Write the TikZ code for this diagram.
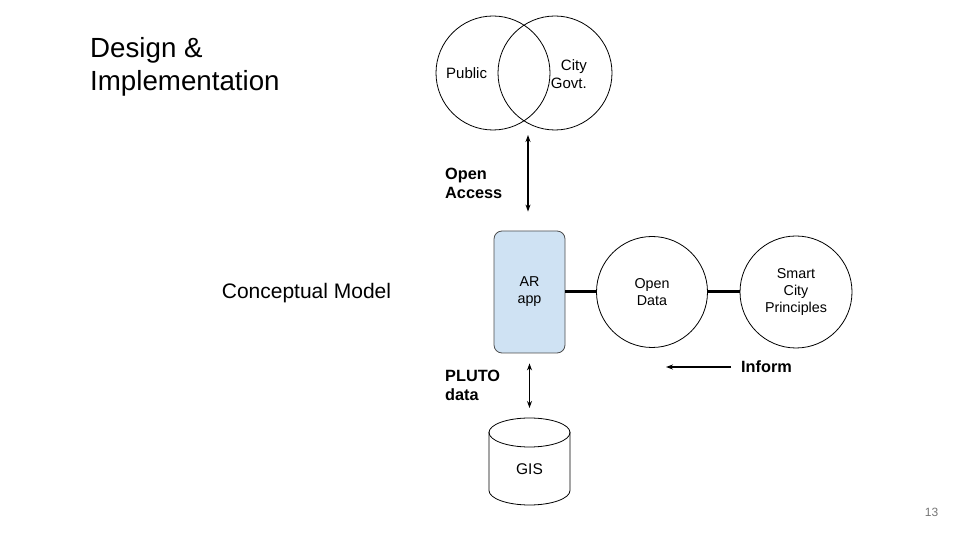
\documentclass[tikz,border=0pt]{standalone}
\usepackage{fontspec}
\setmainfont{Liberation Sans}
\usetikzlibrary{arrows.meta}
\definecolor{arblue}{HTML}{CFE2F3}
\definecolor{pagegray}{HTML}{757575}
\begin{document}
\begin{tikzpicture}[x=1pt, y=1pt, line join=round, >={Stealth[length=7pt,width=5pt]},
    ring/.style={draw, circle, inner sep=0pt, line width=0.8pt},
    txt/.style={font=\fontsize{14.3}{17}\selectfont, align=center},
    bold/.style={font=\fontsize{16.3}{19.5}\selectfont\bfseries, align=left, inner sep=0pt},
    link/.style={line width=3pt},
    dbl/.style={<->, line width=1.3pt}]
    \useasboundingbox (0,0) rectangle (960,540);
    \node[anchor=base west, align=left, inner sep=0pt, font=\fontsize{27.7}{33}\selectfont] (title) at (90,449) {Design \&\\Implementation};
    \node[font=\fontsize{21}{25}\selectfont] (model) at (306.5,247) {Conceptual Model};
    \node[font=\fontsize{12}{14}\selectfont, text=pagegray] (page) at (931.5,28) {13};
    % venn
    \foreach \n/\x in {pub/493,gov/555}
    \node[ring, minimum size=114pt] (\n) at (\x,467) {};
    \node[txt, font=\fontsize{15}{18}\selectfont, inner sep=0pt, anchor=west] (pubtxt) at (446,467) {Public};
    \node[txt, font=\fontsize{15}{18}\selectfont, align=right, inner sep=0pt, anchor=east] (govtxt) at (587,466) {City\\Govt.};
    \coordinate (acc) at (528,405);
    \node[bold, anchor=west] (access) at (445,356.5) {Open\\Access};
    % app and data
    \node[draw=black!70, fill=arblue, rounded corners=8pt, line width=0.8pt, minimum width=71pt, minimum height=122pt, txt] (ar) at (529.5,248) {AR\\app};
    \node[ring, minimum size=111pt, txt] (od) at (652,248) {Open\\Data};
    \node[ring, minimum size=112pt, txt] (scp) at (796,248) {Smart\\City\\Principles};
    \draw[link] (ar) -- (od);
    \draw[link] (od) -- (scp);
    \draw[dbl, shorten >=19pt] (acc) -- (acc |- ar.north);
    \node[bold, anchor=west] (inform) at (741,173) {Inform};
    \draw[->, line width=1.3pt] ([xshift=-10pt]inform.west) -- ([xshift=-75pt]inform.west);
    % gis
    \node[bold, anchor=west] (pluto) at (445,154.5) {PLUTO\\data};
    \coordinate (db) at (529.5,122);
    \draw[line width=0.8pt] (489,108) -- (489,49.5) arc[start angle=180, end angle=360, x radius=40.5, y radius=14.5] -- (570,108);
    \draw[line width=0.8pt] (529.5,107.5) ellipse[x radius=40.5, y radius=14.5];
    \node[txt, font=\fontsize{15.5}{18}\selectfont] (gis) at (529.5,71) {GIS};
    \draw[dbl, shorten <=10pt, shorten >=10pt] (ar.south) -- (db);
\end{tikzpicture}
\end{document}
